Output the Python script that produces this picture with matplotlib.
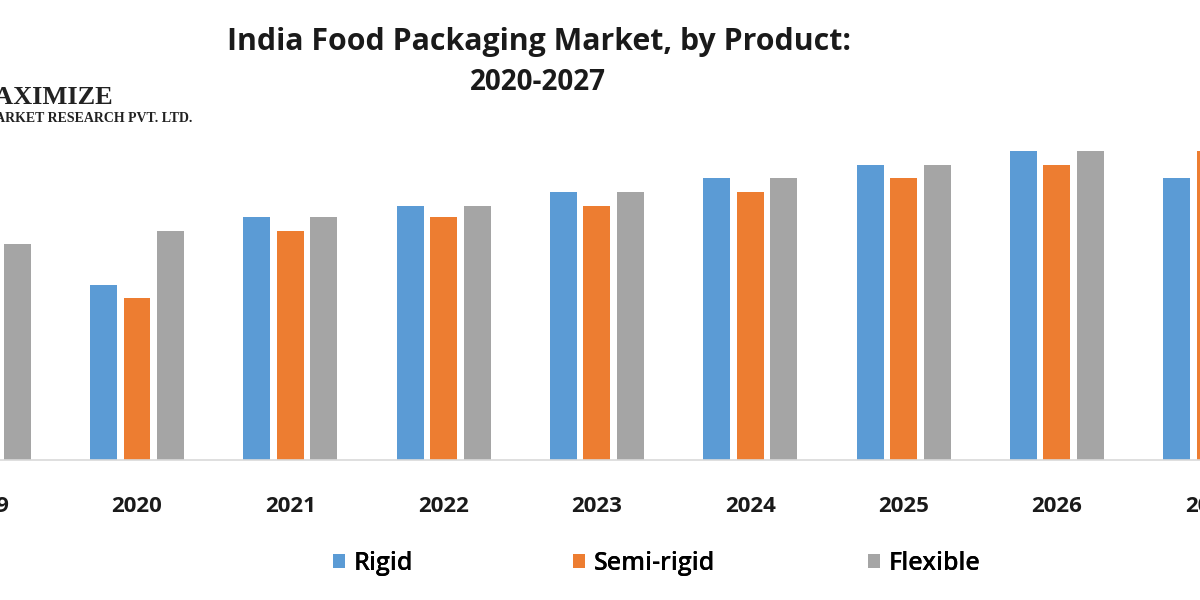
import matplotlib.pyplot as plt
import numpy as np

# Data (arbitrary units)
years = ['2019', '2020', '2021', '2022', '2023', '2024', '2025', '2026', '2027']
rigid = [20.0, 17.5, 24.3, 25.4, 26.8, 28.2, 29.5, 30.9, 28.2]
semi_rigid = [19.0, 16.2, 22.9, 24.3, 25.4, 26.8, 28.2, 29.5, 30.9]
flexible = [21.6, 22.9, 24.3, 25.4, 26.8, 28.2, 29.5, 30.9, 32.2]
series_names = ['Rigid', 'Semi-rigid', 'Flexible']
colors = ['#5b9bd5', '#ed7d31', '#a5a5a5']

fig = plt.figure(figsize=(12, 6), dpi=100)
fig.patch.set_facecolor('white')

# axes span the full width; chart is cropped at both sides like the reference
ax = fig.add_axes([0, 0.2333, 1, 0.55])
x = np.arange(len(years))
step = 0.218
width = 0.176
handles = []
for k, (vals, name, c) in enumerate(zip([rigid, semi_rigid, flexible], series_names, colors)):
    b = ax.bar(x + (k - 1) * step, vals, width=width, color=c, label=name, zorder=2)
    handles.append(b)

ax.set_xlim(0.1065, 7.933)
ax.set_ylim(0, 33)
ax.set_xticks([])
ax.set_yticks([])
for s in ['top', 'right', 'left']:
    ax.spines[s].set_visible(False)
ax.spines['bottom'].set_color('#d9d9d9')
ax.spines['bottom'].set_linewidth(1.2)

# year labels (the first and last are cut by the figure edge, as in the reference)
for xi, yr in zip(x, years):
    ax.text(xi, -0.14, yr, transform=ax.get_xaxis_transform(), ha='center', va='center',
            fontsize=16, fontweight='bold', family='Open Sans', color='#1a1a1a', clip_on=False)

# Title
fig.text(0.449, 0.930, 'India Food Packaging Market, by Product:', ha='center', va='center',
         fontsize=21.8, fontweight='bold', family='Open Sans', color='#1a1a1a')
fig.text(0.448, 0.862, '2020-2027', ha='center', va='center',
         fontsize=20, fontweight='bold', family='Open Sans', color='#1a1a1a')

# Logo text (cut at the left edge)
fig.text(0.094, 0.838, 'MAXIMIZE', ha='right', va='center', fontsize=19,
         fontweight='bold', family='Liberation Serif', color='#222222')
fig.text(0.160, 0.803, 'MARKET RESEARCH PVT. LTD.', ha='right', va='center', fontsize=10,
         fontweight='bold', family='Liberation Serif', color='#222222')

# Legend: one entry per legend, placed like the reference
legend_x = [333 / 1200, 573 / 1200, 868 / 1200]
for h, name, lx in zip(handles, series_names, legend_x):
    leg = fig.legend([h], [name], loc='center left', bbox_to_anchor=(lx, 0.061),
                     frameon=False, borderpad=0, borderaxespad=0,
                     prop={'family': 'Open Sans', 'size': 18, 'weight': 'semibold'},
                     handlelength=0.48, handleheight=0.48, handletextpad=0.35)
    fig.add_artist(leg)

plt.savefig('out.png', dpi=100, facecolor='white')
plt.close()
